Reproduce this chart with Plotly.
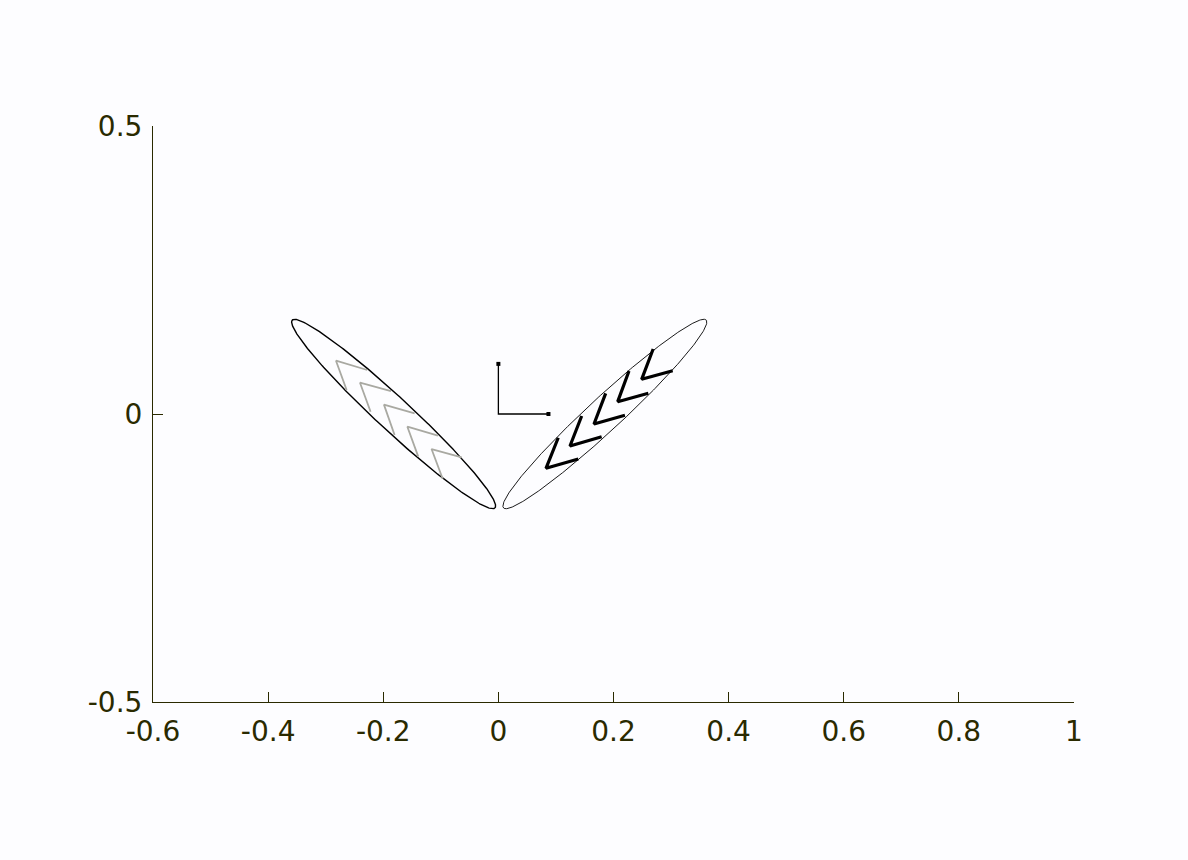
import numpy as np
import plotly.graph_objects as go

# ---- data ----
x_ticks = [-0.6, -0.4, -0.2, 0, 0.2, 0.4, 0.6, 0.8, 1]
x_tick_labels = ["-0.6", "-0.4", "-0.2", "0", "0.2", "0.4", "0.6", "0.8", "1"]
y_ticks = [-0.5, 0, 0.5]
y_tick_labels = ["-0.5", "0", "0.5"]

# ellipses: centre x, centre y, semi-major, semi-minor, angle (deg)
left_ellipse = [-0.182, 0.0, 0.24, 0.029, 137.2]
right_ellipse = [0.185, 0.0, 0.24, 0.029, 42.8]

# right chevrons (black): vertex, end of steep arm, end of shallow arm
right_vertex_x = [0.0827, 0.1244, 0.1661, 0.2073, 0.2489]
right_vertex_y = [-0.0943, -0.0556, -0.0174, 0.0214, 0.0602]
right_up_x = [0.1040, 0.1447, 0.1864, 0.2269, 0.2689]
right_up_y = [-0.0412, -0.0035, 0.0359, 0.0747, 0.1128]
right_side_x = [0.1388, 0.1794, 0.2199, 0.2605, 0.3028]
right_side_y = [-0.0781, -0.0394, -0.0022, 0.0359, 0.0752]

# left chevrons (grey)
left_vertex_x = [-0.2821, -0.2404, -0.1988, -0.1581, -0.1161]
left_vertex_y = [0.0925, 0.0543, 0.0162, -0.0221, -0.0608]
left_side_x = [-0.2278, -0.1866, -0.1455, -0.1050, -0.0637]
left_side_y = [0.0764, 0.0399, 0.0012, -0.0377, -0.0752]
left_down_x = [-0.2636, -0.2220, -0.1803, -0.1392, -0.0968]
left_down_y = [0.0417, 0.0040, -0.0365, -0.0741, -0.1125]

# body frame axes at origin
frame_len = 0.087

TXT = "#2a2a00"
BG = "#fdfdff"


def ellipse(cx, cy, a, b, ang):
    t = np.linspace(0, 2 * np.pi, 361)
    th = np.deg2rad(ang)
    ex = a * np.cos(t)
    ey = b * np.sin(t)
    return cx + ex * np.cos(th) - ey * np.sin(th), cy + ex * np.sin(th) + ey * np.cos(th)


def chevrons(vx, vy, ax_, ay_, bx, by):
    xs, ys = [], []
    for i in range(len(vx)):
        xs += [ax_[i], vx[i], bx[i], None]
        ys += [ay_[i], vy[i], by[i], None]
    return xs, ys


fig = go.Figure()

ex, ey = ellipse(*left_ellipse)
fig.add_trace(go.Scatter(x=ex, y=ey, mode="lines", line=dict(color="black", width=1.4),
                         hoverinfo="skip", showlegend=False))
ex, ey = ellipse(*right_ellipse)
fig.add_trace(go.Scatter(x=ex, y=ey, mode="lines", line=dict(color="black", width=0.9),
                         hoverinfo="skip", showlegend=False))

cx, cy = chevrons(left_vertex_x, left_vertex_y, left_side_x, left_side_y, left_down_x, left_down_y)
fig.add_trace(go.Scatter(x=cx, y=cy, mode="lines", line=dict(color="#a9a9a2", width=1.8),
                         hoverinfo="skip", showlegend=False))
cx, cy = chevrons(right_vertex_x, right_vertex_y, right_up_x, right_up_y, right_side_x, right_side_y)
fig.add_trace(go.Scatter(x=cx, y=cy, mode="lines", line=dict(color="black", width=3.2),
                         hoverinfo="skip", showlegend=False))

fig.add_trace(go.Scatter(x=[0, 0, frame_len], y=[frame_len, 0, 0], mode="lines",
                         line=dict(color="black", width=1.3), hoverinfo="skip", showlegend=False))
fig.add_trace(go.Scatter(x=[0, frame_len], y=[frame_len, 0], mode="markers",
                         marker=dict(color="black", size=4, symbol="square"),
                         hoverinfo="skip", showlegend=False))

fig.update_layout(
    width=1188, height=860,
    margin=dict(l=153, r=114, t=126, b=158),
    paper_bgcolor=BG, plot_bgcolor=BG,
    font=dict(family="DejaVu Sans", size=28, color=TXT),
    showlegend=False,
)
fig.update_xaxes(range=[-0.6, 1], tickvals=x_ticks, ticktext=x_tick_labels,
                 showgrid=False, zeroline=False, showline=True, linecolor=TXT, linewidth=1,
                 ticks="inside", ticklen=10, tickcolor=TXT, tickwidth=1, mirror=False,
                 ticklabelstandoff=4)
fig.update_yaxes(range=[-0.5, 0.5], tickvals=y_ticks, ticktext=y_tick_labels,
                 showgrid=False, zeroline=False, showline=True, linecolor=TXT, linewidth=1,
                 ticks="inside", ticklen=10, tickcolor=TXT, tickwidth=1, mirror=False,
                 ticklabelstandoff=4)

fig.write_html("out.html", config={"responsive": False, "displayModeBar": False})

# remove the default page margin so the figure fills the window exactly
with open("out.html", "r", encoding="utf-8") as f:
    html = f.read()
html = html.replace("<body>", '<body style="margin:0;background:%s;">' % BG, 1)
with open("out.html", "w", encoding="utf-8") as f:
    f.write(html)
